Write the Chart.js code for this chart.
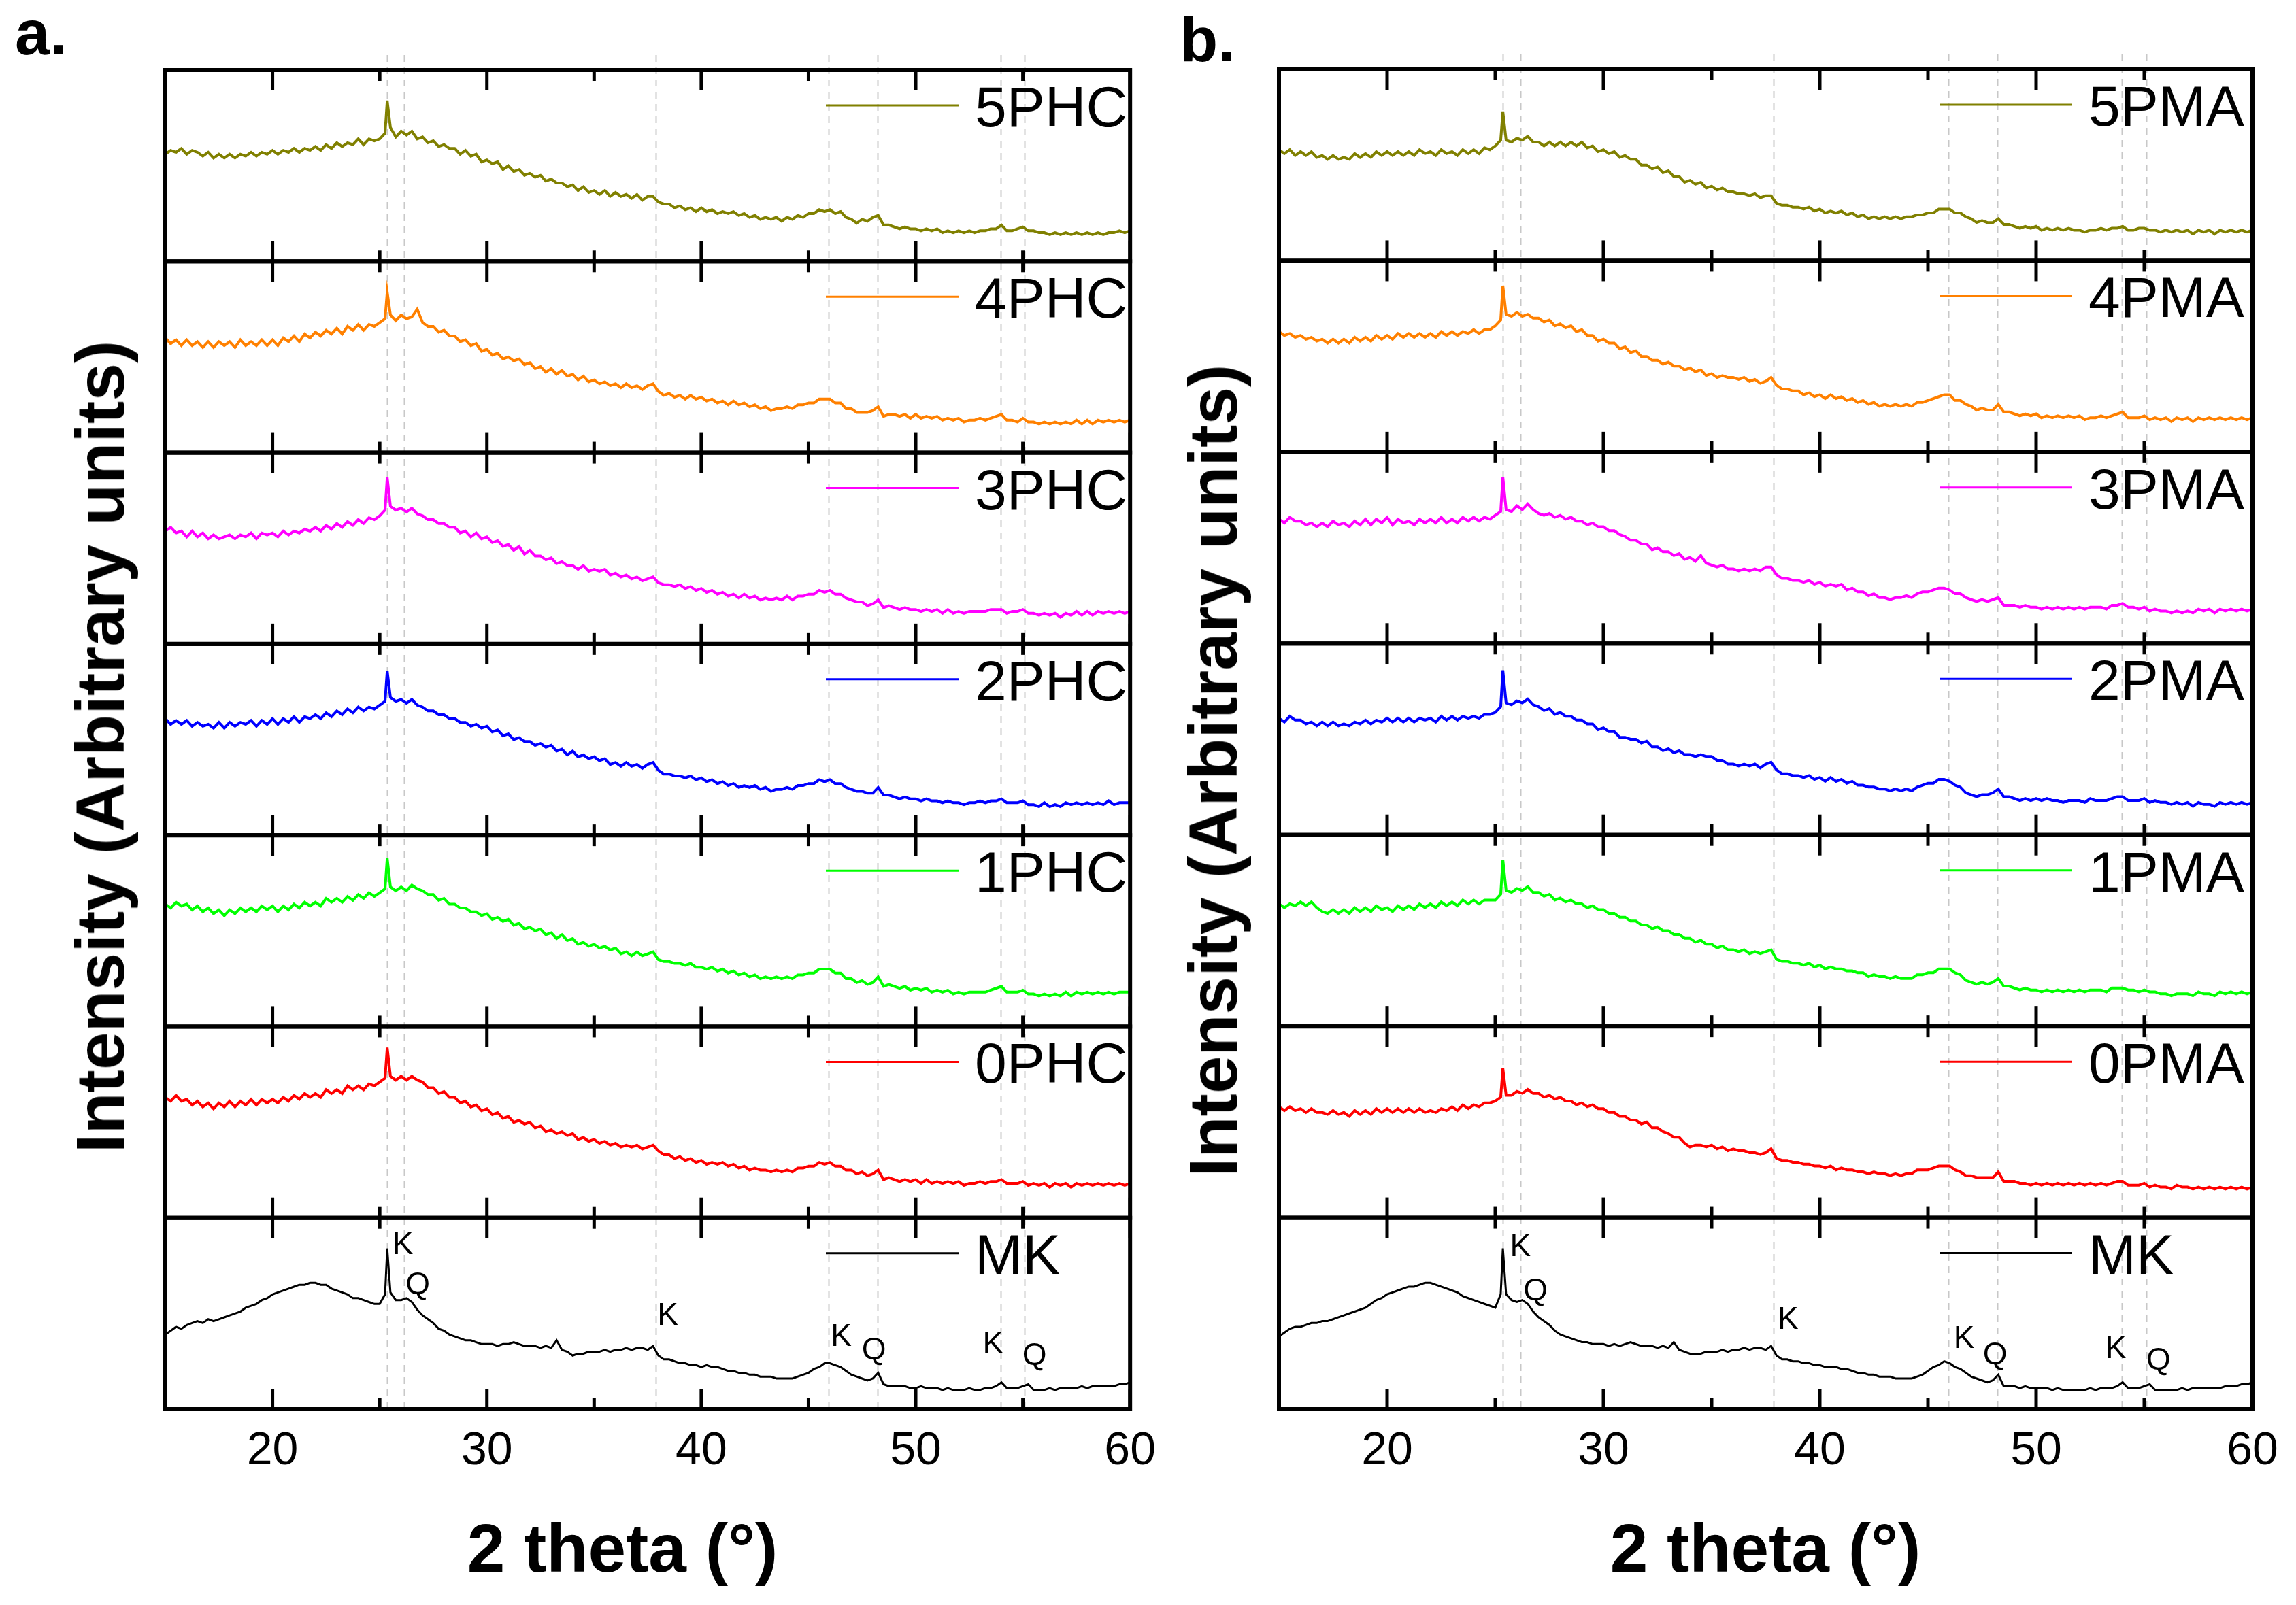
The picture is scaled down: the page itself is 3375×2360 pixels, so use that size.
<!DOCTYPE html>
<html>
<head>
<meta charset="utf-8">
<script src="https://cdn.jsdelivr.net/npm/chart.js@4.4.0/dist/chart.umd.min.js"></script>
<style>
  html, body { margin: 0; padding: 0; background: #ffffff; }
  #wrap { position: relative; width: 3375px; height: 2360px; overflow: hidden; background: #ffffff;
          font-family: "Liberation Sans", Arial, sans-serif; color: #000; }
  canvas { position: absolute; top: 0; }
  #ca { left: 0px; }
  #cb { left: 1720px; }
  .txt { position: absolute; white-space: nowrap; line-height: 1; }
  .panel { font-weight: bold; font-size: 92px; }
  .xt { font-weight: bold; font-size: 100px; transform: translateX(-50%); }
  .yt { font-weight: bold; font-size: 100px; transform: translate(-50%, -50%) rotate(-90deg); }
</style>
</head>
<body>
<div id="wrap">
  <canvas id="ca" width="1720" height="2360"></canvas>
  <canvas id="cb" width="1655" height="2360"></canvas>
  <div class="txt panel" style="left:22px; top:2px;">a.</div>
  <div class="txt panel" style="left:1734px; top:12px;">b.</div>
  <div class="txt xt" style="left:915px; top:2226px;">2 theta (°)</div>
  <div class="txt xt" style="left:2595px; top:2226px;">2 theta (°)</div>
  <div class="txt yt" style="left:147px; top:1098px;">Intensity (Arbitrary units)</div>
  <div class="txt yt" style="left:1783px; top:1133px;">Intensity (Arbitrary units)</div>
</div>
<script>
// ---------------- DATA ----------------
const twoTheta = [
  15,15.25,15.5,15.75,16,16.25,16.5,16.75,17,17.25,17.5,17.75,18,18.25,18.5,18.75,19,19.25,19.5,19.75,
  20,20.25,20.5,20.75,21,21.25,21.5,21.75,22,22.25,22.5,22.75,23,23.25,23.5,23.75,24,24.25,24.5,24.75,
  25,25.25,25.35,25.5,25.75,
  26,26.25,26.5,26.75,27,27.25,27.5,27.75,28,28.25,28.5,28.75,29,29.25,29.5,29.75,
  30,30.25,30.5,30.75,31,31.25,31.5,31.75,32,32.25,32.5,32.75,33,33.25,33.5,33.75,34,34.25,34.5,34.75,
  35,35.25,35.5,35.75,36,36.25,36.5,36.75,37,37.25,37.5,37.75,38,38.25,38.5,38.75,39,39.25,39.5,39.75,
  40,40.25,40.5,40.75,41,41.25,41.5,41.75,42,42.25,42.5,42.75,43,43.25,43.5,43.75,44,44.25,44.5,44.75,
  45,45.25,45.5,45.75,46,46.25,46.5,46.75,47,47.25,47.5,47.75,48,48.25,48.5,48.75,49,49.25,49.5,49.75,
  50,50.25,50.5,50.75,51,51.25,51.5,51.75,52,52.25,52.5,52.75,53,53.25,53.5,53.75,54,54.25,54.5,54.75,
  55,55.25,55.5,55.75,56,56.25,56.5,56.75,57,57.25,57.5,57.75,58,58.25,58.5,58.75,59,59.25,59.5,59.75,
  60
];

const xTickValues = [20, 30, 40, 50, 60];
const xMinorTickValues = [25, 35, 45, 55];
const referenceLines = [25.35, 26.15, 37.87, 45.93, 48.22, 53.96, 55.08];

const namesA = ['5PHC', '4PHC', '3PHC', '2PHC', '1PHC', '0PHC', 'MK'];
const namesB = ['5PMA', '4PMA', '3PMA', '2PMA', '1PMA', '0PMA', 'MK'];
const seriesColors = ['#808000', '#FF8000', '#FF00FF', '#0000FF', '#00FF00', '#FF0000', '#000000'];

const phc5 = [
  56,58,57,59, 56,58,57,55, 57,54,56,54, 56,54,56,55, 57,55,57,56, 58,56,58,57, 59,57,59,58, 60,58,61,59, 62,60,62,61, 64,61,64,63,
  64,67,84,70,65,
  68,66,68,64, 65,62,63,60, 61,59,59,56, 58,55,56,52, 53,51,52,48, 50,47,48,45, 46,44,45,42, 43,41,41,39, 40,37,39,36,
  37,35,37,34, 36,34,35,33, 35,32,34,34, 31,30,30,28, 29,27,28,26, 28,26,27,25, 26,25,26,24, 25,23,24,22, 23,22,23,21,
  23,22,24,23, 25,25,27,26, 27,25,26,23, 22,20,22,21, 23,24,19,19, 18,17,18,17, 17,16,17,16, 17,15,16,15, 16,15,16,15,
  16,16,17,17, 19,16,16,17, 18,16,16,15, 15,14,15,14, 15,14,15,14, 15,14,15,14, 15,15,16,15,
  16
];
const phc4 = [
  60,57,59,56, 59,56,58,55, 58,55,58,56, 58,55,59,56, 58,56,59,56, 59,56,60,58, 61,58,62,60, 63,61,64,62, 65,62,66,64, 67,64,67,66,
  68,70,84,72,69,
  72,70,71,75, 68,66,66,63, 64,61,61,58, 59,56,57,53, 54,51,52,49, 50,48,49,46, 47,44,45,42, 44,41,43,40, 41,38,40,37,
  38,36,37,35, 36,34,36,34, 35,33,35,36, 32,30,31,29, 30,28,30,28, 29,27,28,26, 27,25,27,25, 26,24,25,23, 24,22,23,23,
  24,23,25,25, 26,26,28,28, 28,26,26,23, 23,21,21,21, 22,24,19,20, 20,19,20,18, 20,18,19,18, 19,17,18,17, 18,16,17,17,
  18,17,18,19, 20,17,17,16, 18,16,16,15, 16,15,16,15, 16,15,17,15, 17,15,17,16, 17,16,17,16,
  17
];
const phc3 = [
  59,61,58,59, 56,59,56,58, 55,57,55,56, 57,55,57,56, 58,55,58,57, 58,56,59,57, 59,58,60,59, 61,59,62,60, 63,61,64,62, 65,63,66,65,
  67,70,87,72,70,
  71,69,71,68, 67,65,65,63, 63,61,61,58, 59,56,58,55, 56,53,54,51, 52,49,51,47, 49,46,46,44, 45,42,43,41, 41,39,41,38,
  39,38,39,36, 37,35,36,34, 35,33,34,35, 32,31,31,30, 31,29,30,28, 29,27,28,26, 27,25,26,24, 26,24,25,23, 24,23,24,23,
  25,23,25,25, 26,26,28,27, 28,26,26,24, 23,22,22,20, 21,23,19,20, 19,18,19,18, 18,17,18,17, 18,16,18,16, 17,16,17,17,
  17,17,18,18, 18,16,17,17, 18,16,16,15, 16,15,16,14, 16,15,17,15, 17,15,17,16, 17,16,17,16,
  17
];
const phc2 = [
  61,58,60,58, 60,57,59,57, 58,56,59,56, 59,57,59,58, 60,57,60,58, 61,58,61,59, 62,59,62,61, 63,61,64,62, 65,63,66,64, 67,65,67,66,
  68,70,86,72,70,
  71,69,71,68, 67,65,65,63, 63,61,61,59, 59,57,58,56, 57,54,55,52, 53,50,51,49, 49,47,48,46, 47,44,45,42, 44,41,42,40,
  41,39,40,37, 38,36,38,36, 37,35,37,38, 34,32,32,31, 31,30,31,29, 30,28,29,27, 28,26,27,25, 26,25,26,24, 25,23,24,24,
  25,24,26,26, 27,27,29,28, 29,27,27,25, 24,23,23,22, 22,25,21,21, 20,19,20,19, 19,18,19,18, 18,17,18,17, 17,16,17,17,
  18,17,18,18, 19,17,17,17, 18,16,16,15, 17,15,16,15, 17,16,17,16, 17,16,17,16, 18,16,17,17,
  17
];
const phc1 = [
  64,62,65,63, 64,61,63,60, 62,59,61,58, 61,59,62,60, 62,60,63,61, 63,60,63,61, 64,62,65,63, 65,63,67,65, 67,65,68,66, 69,67,70,68,
  70,72,88,73,71,
  73,71,74,72, 71,69,69,66, 67,64,64,62, 62,60,60,58, 59,56,57,55, 56,53,54,51, 52,50,51,48, 49,46,48,45, 46,43,44,42,
  43,41,42,40, 41,38,39,37, 39,37,38,39, 35,34,34,33, 33,32,33,31, 31,30,31,29, 30,28,29,27, 28,26,27,25, 26,25,26,25,
  26,25,27,27, 28,28,30,30, 30,28,28,25, 25,23,24,22, 23,26,21,22, 21,20,21,19, 20,19,20,18, 19,18,19,17, 18,17,18,18,
  18,18,19,20, 21,18,18,18, 19,17,17,16, 17,16,17,16, 18,16,18,17, 18,17,18,17, 18,17,18,18,
  18
];
const phc0 = [
  63,61,64,61, 62,59,61,58, 60,57,60,58, 61,58,61,59, 62,59,62,60, 62,60,63,61, 64,62,65,63, 65,63,67,65, 67,65,69,67, 69,67,70,69,
  71,73,89,74,72,
  74,72,74,72, 71,68,68,65, 66,63,63,60, 61,58,59,56, 57,54,55,52, 53,50,51,49, 50,47,48,45, 46,44,45,43, 44,41,42,40,
  41,39,40,38, 39,37,38,37, 38,36,37,38, 35,33,33,31, 32,30,31,29, 30,28,29,28, 29,27,28,26, 27,25,26,25, 25,24,25,24,
  25,24,26,26, 27,27,29,28, 29,27,27,25, 25,23,24,22, 23,25,20,21, 20,19,20,19, 20,18,20,18, 19,18,19,18, 19,17,18,18,
  19,18,19,19, 20,18,18,18, 19,17,18,17, 18,16,18,17, 18,16,18,17, 18,17,18,17, 18,17,18,17,
  18
];
const mkA = [
  39,41,43,42, 44,45,46,45, 47,46,47,48, 49,50,51,53, 54,55,57,58, 60,61,62,63, 64,65,65,66, 66,65,65,63, 62,61,60,58, 58,57,56,55,
  55,60,84,61,57,
  57,58,56,52, 49,47,45,42, 41,39,38,37, 36,36,35,34, 34,34,33,34, 34,35,34,33, 33,33,32,33, 32,36,31,30, 28,29,29,30,
  30,30,31,30, 31,31,32,31, 32,32,31,33, 28,26,26,25, 24,24,23,23, 22,23,22,22, 21,20,20,19, 19,18,18,17, 17,17,16,16,
  16,16,17,18, 19,21,22,24, 24,23,22,20, 18,17,16,15, 16,19,13,12, 12,12,12,11, 11,12,11,11, 11,10,11,10, 10,10,11,10,
  10,11,11,12, 14,11,11,11, 12,13,10,10, 10,11,10,11, 11,11,11,12, 11,12,12,12, 12,12,13,13,
  14
];

const pma5 = [
  58,56,58,55, 57,55,57,54, 55,53,55,53, 54,53,56,54, 56,54,57,55, 57,55,57,55, 57,55,58,56, 57,55,58,56, 57,55,58,56, 58,56,59,58,
  60,63,78,63,62,
  64,63,65,62, 62,60,62,60, 62,60,62,60, 62,59,60,57, 58,56,57,54, 55,53,53,50, 50,48,49,46, 47,44,44,41, 42,40,41,38,
  39,37,38,36, 36,35,35,34, 35,33,34,34, 30,29,29,28, 28,27,28,26, 27,25,26,25, 26,24,25,23, 24,22,23,22, 23,22,23,22,
  23,23,24,24, 25,25,27,27, 27,25,25,23, 22,20,21,20, 20,22,19,19, 18,17,18,17, 18,16,17,16, 17,16,17,16, 16,15,16,16,
  17,16,17,17, 18,16,16,17, 17,16,16,15, 16,15,16,15, 16,14,16,15, 16,14,16,15, 16,15,16,15,
  16
];
const pma4 = [
  63,61,62,60, 61,59,60,58, 59,57,59,57, 59,57,60,58, 60,58,61,59, 61,59,62,60, 62,60,62,60, 62,60,63,61, 63,61,63,62, 64,62,64,64,
  66,69,87,72,71,
  73,71,72,70, 70,68,69,66, 67,65,66,63, 64,61,61,58, 59,57,57,54, 55,52,53,50, 50,48,48,46, 47,45,45,43, 44,42,43,40,
  41,39,40,39, 39,38,39,37, 38,36,37,39, 35,33,33,32, 32,30,31,29, 30,28,30,28, 29,27,28,26, 27,25,26,24, 25,24,25,24,
  25,24,26,26, 27,28,29,30, 30,27,27,25, 24,22,23,22, 22,25,21,21, 20,19,20,19, 20,18,19,18, 19,18,19,18, 19,17,18,18,
  19,18,19,20, 21,18,18,18, 19,17,18,17, 18,16,18,17, 18,16,18,17, 18,17,18,17, 18,17,18,17,
  18
];
const pma3 = [
  65,63,66,64, 64,62,63,61, 63,61,64,62, 63,61,64,62, 65,62,65,63, 66,62,65,63, 64,62,65,63, 65,63,66,63, 65,63,66,64, 66,64,66,65,
  67,69,87,70,69,
  72,70,73,70, 68,67,68,66, 67,65,66,64, 64,62,63,61, 61,59,59,57, 56,54,54,52, 52,49,50,48, 48,46,47,44, 45,43,46,42,
  41,40,41,39, 39,38,39,38, 39,38,40,40, 36,34,34,33, 33,32,33,31, 32,30,31,30, 31,28,29,27, 27,25,26,24, 24,23,24,24,
  25,24,26,27, 27,28,29,29, 28,26,26,24, 23,22,23,22, 23,24,20,20, 20,19,20,19, 19,18,19,18, 19,18,19,18, 19,18,19,19,
  19,18,20,20, 21,19,19,18, 19,17,18,17, 17,16,17,16, 17,16,18,17, 18,16,18,17, 18,17,18,17,
  18
];
const pma2 = [
  61,59,62,60, 60,58,59,57, 59,57,59,57, 58,57,59,58, 60,58,60,59, 61,59,61,59, 61,59,61,60, 61,59,62,60, 62,60,62,61, 62,61,63,63,
  64,67,86,69,68,
  70,69,71,68, 67,65,66,63, 64,62,62,60, 60,58,58,55, 56,54,54,51, 51,50,50,48, 49,46,46,44, 45,43,44,42, 42,41,42,41,
  41,39,39,37, 37,36,37,36, 37,35,37,38, 34,32,32,31, 31,30,31,29, 30,28,30,28, 29,27,28,26, 26,25,25,24, 24,23,24,23,
  24,23,25,26, 27,27,29,29, 28,26,25,22, 21,20,21,21, 22,24,20,20, 19,18,19,18, 19,18,19,18, 18,17,18,18, 18,17,19,18,
  18,18,19,20, 20,18,18,18, 19,17,18,17, 17,16,17,16, 17,15,17,16, 16,15,17,16, 17,16,17,16,
  17
];
const pma1 = [
  64,62,64,63, 65,63,65,62, 60,59,61,59, 61,59,62,60, 62,60,63,61, 62,60,63,61, 63,61,64,62, 64,62,65,63, 65,63,66,64, 66,64,66,66,
  66,69,87,71,70,
  72,71,73,70, 70,68,69,66, 67,65,66,64, 64,62,63,61, 61,59,59,57, 57,55,55,53, 53,51,52,50, 50,48,48,46, 46,44,45,43,
  43,41,42,40, 40,39,40,38, 39,38,39,40, 35,34,34,33, 33,32,33,31, 32,30,31,30, 30,29,29,28, 28,26,27,26, 26,25,26,25,
  25,25,27,27, 28,28,30,30, 30,28,27,24, 23,22,23,22, 23,25,21,21, 20,19,20,19, 19,18,19,18, 19,18,19,18, 19,18,19,19,
  19,18,20,20, 20,19,19,18, 19,18,18,17, 17,16,17,17, 17,16,18,17, 17,16,18,17, 18,17,18,17,
  18
];
const pma0 = [
  58,56,58,56, 57,55,57,55, 55,54,56,54, 55,53,56,54, 56,54,57,55, 57,55,57,55, 57,55,57,55, 56,55,57,56, 58,56,59,57, 59,58,60,60,
  61,63,78,64,64,
  66,65,67,65, 65,63,64,62, 63,61,61,59, 60,58,59,57, 57,55,55,53, 53,51,51,49, 50,47,47,45, 44,42,42,39, 37,38,38,37,
  38,36,37,35, 36,35,35,34, 34,33,34,36, 31,30,30,29, 29,28,28,27, 27,26,27,25, 26,25,25,24, 24,23,24,23, 23,22,23,22,
  23,23,25,25, 25,26,27,27, 27,25,24,22, 22,21,21,21, 21,24,19,19, 19,18,18,17, 18,17,18,17, 18,17,18,17, 18,17,18,17,
  18,17,18,19, 19,17,17,17, 18,16,17,16, 16,15,17,16, 16,15,16,15, 16,15,16,15, 16,15,16,15,
  16
];
const mkB = [
  38,40,42,43, 43,44,45,45, 46,46,47,48, 49,50,51,52, 53,55,57,58, 60,61,62,63, 64,64,65,66, 66,65,64,63, 62,61,59,58, 57,56,55,54,
  53,60,84,60,57,
  56,57,55,51, 48,46,44,41, 39,38,37,36, 35,35,34,34, 34,33,34,33, 34,35,34,33, 33,33,32,33, 32,35,31,30, 29,29,29,30,
  30,30,31,30, 31,31,32,31, 32,32,31,33, 28,26,26,25, 25,24,24,23, 23,22,22,22, 21,21,20,19, 19,18,18,17, 17,17,16,16,
  16,16,17,18, 20,22,23,25, 24,22,21,19, 17,16,15,14, 15,18,12,12, 12,11,12,11, 11,11,11,10, 11,10,10,10, 10,10,11,10,
  11,11,11,12, 14,11,11,11, 12,13,10,10, 10,10,10,11, 10,11,11,11, 11,11,11,12, 12,12,13,13,
  14
];

const seriesA = [phc5, phc4, phc3, phc2, phc1, phc0, mkA];
const seriesB = [pma5, pma4, pma3, pma2, pma1, pma0, mkB];
const seriesLineWidths = [4, 4, 4, 4, 4, 4, 3];

const peakLabels = ['K', 'Q', 'K', 'K', 'Q', 'K', 'Q'];
const peakXA = [26.08, 26.78, 38.44, 46.53, 48.05, 53.61, 55.54];
const peakYA = [81, 60, 44, 33, 26, 29, 23];
const peakXB = [26.16, 26.86, 38.53, 46.67, 48.10, 53.68, 55.66];
const peakYB = [80, 57, 42, 32, 23.5, 26.7, 20.6];

// ---------------- CHART BUILDER ----------------
const FONT = '"Liberation Sans", Arial, sans-serif';

function panelPlugin(names, peakX, peakY) {
  return {
    id: 'panelFrames',
    beforeDatasetsDraw(chart) {
      const ctx = chart.ctx;
      const xs = chart.scales.x;
      const yAxes = names.map((n, i) => chart.scales['y' + i]);
      const top = Math.min(...yAxes.map(s => s.top));
      const bottom = Math.max(...yAxes.map(s => s.bottom));
      ctx.save();
      ctx.strokeStyle = '#c8c8c8';
      ctx.lineWidth = 2;
      ctx.setLineDash([10, 8]);
      referenceLines.forEach(v => {
        const px = Math.round(xs.getPixelForValue(v)) + 0.5;
        ctx.beginPath();
        ctx.moveTo(px, top - 22);
        ctx.lineTo(px, bottom);
        ctx.stroke();
      });
      ctx.restore();
    },
    afterDatasetsDraw(chart) {
      const ctx = chart.ctx;
      const xs = chart.scales.x;
      ctx.save();
      names.forEach((name, i) => {
        const ys = chart.scales['y' + i];
        const L = xs.left, R = xs.right, T = ys.top, B = ys.bottom;
        ctx.strokeStyle = '#000';
        ctx.lineWidth = 5;
        ctx.setLineDash([]);
        xTickValues.forEach(v => {
          const px = xs.getPixelForValue(v);
          ctx.beginPath(); ctx.moveTo(px, T); ctx.lineTo(px, T + 30); ctx.stroke();
          ctx.beginPath(); ctx.moveTo(px, B); ctx.lineTo(px, B - 30); ctx.stroke();
        });
        xMinorTickValues.forEach(v => {
          const px = xs.getPixelForValue(v);
          ctx.beginPath(); ctx.moveTo(px, T); ctx.lineTo(px, T + 16); ctx.stroke();
          ctx.beginPath(); ctx.moveTo(px, B); ctx.lineTo(px, B - 16); ctx.stroke();
        });
        ctx.lineWidth = 6;
        ctx.strokeRect(L, T, R - L, B - T);
        const ds = chart.data.datasets[i];
        ctx.strokeStyle = ds.borderColor;
        ctx.lineWidth = 3;
        ctx.beginPath();
        ctx.moveTo(L + 971, T + 52);
        ctx.lineTo(L + 1166, T + 52);
        ctx.stroke();
        ctx.fillStyle = '#000';
        ctx.font = '84px ' + FONT;
        ctx.textAlign = 'left';
        ctx.textBaseline = 'alphabetic';
        ctx.fillText(ds.label, L + 1190, T + 83);
      });
      const mk = chart.scales['y' + (names.length - 1)];
      ctx.fillStyle = '#000';
      ctx.font = '46px ' + FONT;
      ctx.textAlign = 'center';
      ctx.textBaseline = 'alphabetic';
      peakLabels.forEach((t, k) => {
        ctx.fillText(t, xs.getPixelForValue(peakX[k]), mk.getPixelForValue(peakY[k]));
      });
      ctx.restore();
    }
  };
}

function makePanel(canvasId, names, series, padLeft, padRight, padTop, peakX, peakY) {
  const scales = {
    x: {
      type: 'linear', position: 'bottom', min: 15, max: 60,
      grid: { display: false, drawTicks: false },
      border: { display: false },
      afterBuildTicks(s) { s.ticks = xTickValues.map(v => ({ value: v })); },
      afterFit(s) { s.height = 110; },
      ticks: { color: '#000', padding: 21, maxRotation: 0,
               font: { family: FONT, size: 68, lineHeight: 1.2 } }
    }
  };
  // stacked left axes are placed top-down in reverse definition order,
  // so define the bottom pattern (MK) first and the top pattern last
  for (let i = names.length - 1; i >= 0; i--) {
    scales['y' + i] = {
      type: 'linear', position: 'left', stack: 'panel', stackWeight: 1,
      min: 0, max: 100, offset: false,
      ticks: { display: false },
      grid: { display: false, drawTicks: false },
      border: { display: false },
      afterFit(s) { s.width = 0; }
    };
  }
  const datasets = names.map((n, i) => ({
    label: n,
    yAxisID: 'y' + i,
    xAxisID: 'x',
    data: twoTheta.map((x, k) => ({ x: x, y: series[i][k] })),
    borderColor: seriesColors[i],
    backgroundColor: seriesColors[i],
    borderWidth: seriesLineWidths[i],
    borderJoinStyle: 'miter',
    pointRadius: 0,
    tension: 0,
    fill: false
  }));
  return new Chart(document.getElementById(canvasId), {
    type: 'line',
    data: { datasets },
    options: {
      responsive: false,
      animation: false,
      devicePixelRatio: 1,
      layout: { padding: { left: padLeft, right: padRight, top: padTop, bottom: 2360 - 2072 - 110 } },
      plugins: { legend: { display: false }, tooltip: { enabled: false }, title: { display: false } },
      scales
    },
    plugins: [panelPlugin(names, peakX, peakY)]
  });
}

makePanel('ca', namesA, seriesA, 243, 1720 - 1673, 103, peakXA, peakYA);
makePanel('cb', namesB, seriesB, 160, 1655 - 1591, 102, peakXB, peakYB);
</script>
</body>
</html>
